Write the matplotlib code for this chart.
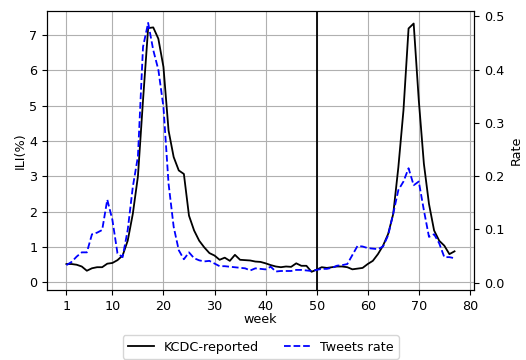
import matplotlib
matplotlib.use("Agg")
import matplotlib.pyplot as plt

plt.rcParams["font.size"] = 9.2

weeks = list(range(1, 78))

# KCDC-reported ILI (%) per week
kcdc = [0.52, 0.52, 0.50, 0.45, 0.33, 0.40, 0.43, 0.43, 0.53, 0.55,
        0.63, 0.76, 1.18, 1.94, 3.00, 5.16, 7.20, 7.22, 6.90, 6.10,
        4.30, 3.55, 3.17, 3.07, 1.89, 1.47, 1.18, 0.99, 0.83, 0.76,
        0.64, 0.70, 0.61, 0.78, 0.64, 0.63, 0.62, 0.59, 0.58, 0.54,
        0.49, 0.45, 0.43, 0.45, 0.44, 0.54, 0.47, 0.47, 0.30, 0.36,
        0.43, 0.41, 0.43, 0.45, 0.45, 0.43, 0.37, 0.39, 0.41, 0.52,
        0.61, 0.80, 1.04, 1.37, 1.94, 3.26, 4.87, 7.19, 7.33, 5.16,
        3.36, 2.22, 1.47, 1.18, 1.04, 0.80, 0.88]

# tweets rate per week
tweets = [0.033, 0.039, 0.049, 0.057, 0.057, 0.091, 0.094, 0.099, 0.156, 0.118,
          0.055, 0.048, 0.099, 0.180, 0.237, 0.443, 0.488, 0.437, 0.400, 0.330,
          0.186, 0.105, 0.061, 0.044, 0.057, 0.046, 0.042, 0.040, 0.041, 0.036,
          0.031, 0.031, 0.030, 0.029, 0.028, 0.027, 0.023, 0.027, 0.026, 0.025,
          0.030, 0.021, 0.022, 0.022, 0.022, 0.024, 0.024, 0.023, 0.022, 0.024,
          0.026, 0.026, 0.028, 0.032, 0.033, 0.035, 0.052, 0.069, 0.068, 0.065,
          0.064, 0.063, 0.068, 0.089, 0.130, 0.174, 0.190, 0.215, 0.183, 0.190,
          0.136, 0.086, 0.091, 0.074, 0.048, 0.048, 0.046]

xticks = [1, 10, 20, 30, 40, 50, 60, 70, 80]
split_week = 50

fig = plt.figure(figsize=(5.26, 3.6), dpi=100)
ax1 = fig.add_axes([0.0894, 0.194, 0.8116, 0.775])

l1, = ax1.plot(weeks, kcdc, color="black", lw=1.3, label="KCDC-reported")
ax1.axvline(split_week, color="black", lw=1.3)
ax1.set_xticks(xticks)
ax1.set_xlim(-2.8, 80.8)
ax1.set_ylim(-0.22, 7.68)
ax1.set_yticks(range(0, 8))
ax1.grid(True, color="#b0b0b0", lw=0.8)
ax1.set_xlabel("week", labelpad=0)
ax1.set_ylabel("ILI(%)", labelpad=2)

ax2 = ax1.twinx()
l2, = ax2.plot(weeks, tweets, color="blue", lw=1.3, ls="--", label="Tweets rate")
ax2.set_ylim(-0.014, 0.51)
ax2.set_ylabel("Rate")

fig.legend(handles=[l1, l2], loc="center", bbox_to_anchor=(0.496, 0.036), ncol=2)

plt.savefig("out.png", dpi=100)
